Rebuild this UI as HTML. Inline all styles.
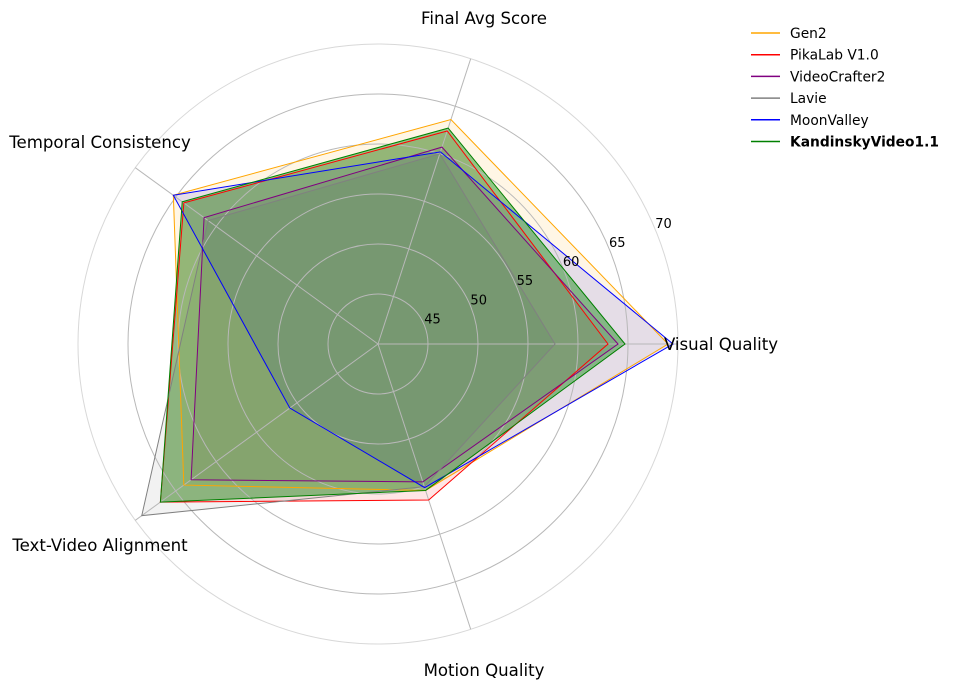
<!DOCTYPE html>
<html><head><meta charset="utf-8"><style>
body{margin:0;background:#fff;}
svg{display:block;font-family:"DejaVu Sans","Liberation Sans",sans-serif;}
</style></head><body>
<svg id="chart" width="956" height="689"></svg>
<script>
const categories=["Visual Quality","Final Avg Score","Temporal Consistency","Text-Video Alignment","Motion Quality"];
const seriesNames=["Gen2","PikaLab V1.0","VideoCrafter2","Lavie","MoonValley","KandinskyVideo1.1"];
const gen2=[69.0,63.6,65.3,64.0,55.4];
const pika=[63.0,62.4,64.0,66.9,56.4];
const vc2=[64.0,60.7,61.5,63.1,54.5];
const lavie=[57.7,60.0,61.0,69.2,55.0];
const moon=[69.5,60.2,65.3,50.9,55.1];
const kand=[64.7,62.7,64.2,66.9,55.4];
const tickLabels=["45","50","55","60","65","70"];
const tickValues=[45,50,55,60,65,70];
const allSeries=[gen2,pika,vc2,lavie,moon,kand];
const colors=["orange","red","purple","gray","blue","green"];
const fillOps=[0.1,0.1,0.1,0.1,0.1,0.42];
const NS="http://www.w3.org/2000/svg";
const svg=document.getElementById('chart');
const cx=378,cy=344,rMin=40,rMax=70,R=300;
function rs(v){return (v-rMin)/(rMax-rMin)*R;}
function ang(i){return i*2*Math.PI/categories.length;}
function pt(i,v){const r=rs(v),a=ang(i);return [cx+r*Math.cos(a),cy-r*Math.sin(a)];}
function mk(t,attrs){const e=document.createElementNS(NS,t);for(const k in attrs)e.setAttribute(k,attrs[k]);svg.appendChild(e);return e;}
allSeries.forEach((s,j)=>{
  const pts=s.map((v,i)=>pt(i,v).join(',')).join(' ');
  const p=mk('polygon',{points:pts,fill:colors[j],'fill-opacity':fillOps[j],stroke:'none'});
  
  
});
tickValues.forEach((v,k)=>{
  const c=mk('circle',{cx:cx,cy:cy,r:rs(v),fill:'none',stroke:k===tickValues.length-1?'#d8d8d8':'#b8b8b8','stroke-width':1});
  
  
});
categories.forEach((c,i)=>{
  const p=pt(i,rMax);
  const l=mk('line',{x1:cx,y1:cy,x2:p[0],y2:p[1],stroke:'#b8b8b8','stroke-width':1});
  
  
});
allSeries.forEach((s,j)=>{
  const pts=s.map((v,i)=>pt(i,v).join(',')).join(' ');
  const p=mk('polygon',{points:pts,fill:'none',stroke:colors[j],'stroke-width':1});
  
  
});
const ta=22.5*Math.PI/180;
tickValues.forEach((v,k)=>{
  const r=rs(v)+9;
  const t=mk('text',{x:cx+r*Math.cos(ta),y:cy-r*Math.sin(ta)+2,'font-size':13,'text-anchor':'middle',fill:'#000'});
  t.textContent=tickLabels[k];
  
  
});
const labelPos=[[721,350,'middle'],[484,24,'middle'],[100,148,'middle'],[100,551,'middle'],[484,676,'middle']];
categories.forEach((c,i)=>{
  const t=mk('text',{x:labelPos[i][0],y:labelPos[i][1],'font-size':16.6,'text-anchor':labelPos[i][2],fill:'#000'});
  t.textContent=c;
  
  
});
seriesNames.forEach((n,j)=>{
  const y=33+j*21.7;
  const l=mk('line',{x1:751,y1:y,x2:780,y2:y,stroke:colors[j],'stroke-width':1.5});
  
  
  const t=mk('text',{x:790,y:y+5,'font-size':13.8,fill:'#000','font-weight':j===5?'bold':'normal'});
  t.textContent=n;
  
  
});
</script>
</body></html>
